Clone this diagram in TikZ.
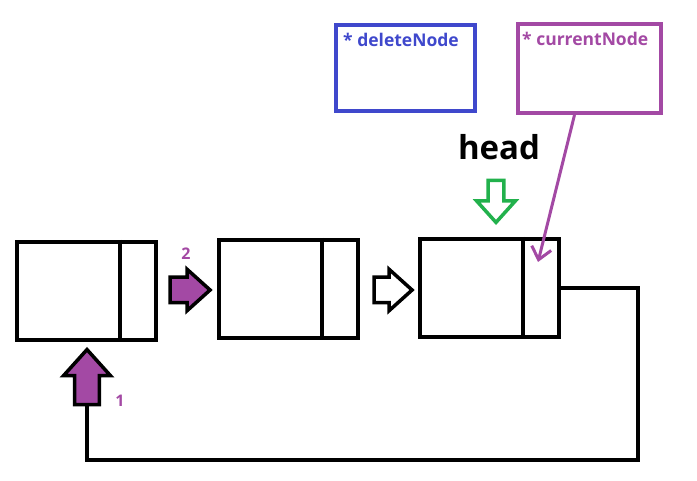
\documentclass[tikz,border=0pt]{standalone}
\usepackage{fontspec}
\setmainfont{Open Sans}
\usepackage{tikz}
\usetikzlibrary{shapes, arrows.meta, positioning}
\definecolor{ptrPurple}{HTML}{A349A4}
\definecolor{ptrBlue}{HTML}{3F48CC}
\definecolor{headGreen}{HTML}{22B14C}
\tikzset{
  listnode/.style={draw=black, line width=4pt, inner sep=0pt,
                   minimum width=139pt, minimum height=98pt},
  ptrbox/.style={draw=#1, line width=4pt, inner sep=0pt},
  ptrtext/.style={text=#1, font=\fontsize{17.5}{20}\selectfont\bfseries,
                  inner sep=0pt, anchor=north west},
  blockarrow/.style={single arrow, draw=black, line width=3.5pt,
                     inner sep=0pt, single arrow tip angle=84},
  numlbl/.style={text=ptrPurple, font=\fontsize{16}{18}\selectfont\bfseries},
  linkline/.style={draw=black, line width=4pt},
}

\begin{document}
\begin{tikzpicture}[x=1pt, y=-1pt]
    \useasboundingbox (0,0) rectangle (697,481);
    % list nodes
    \node[listnode] (box1) at (86.5,291) {};
    \node[listnode, right=59pt of box1, yshift=2pt] (box2) {};
    \node[listnode, right=58pt of box2, yshift=1pt] (box3) {};
    \foreach \b in {box1,box2,box3}{
      \draw[linkline] ([xshift=-38pt]\b.north east) -- ([xshift=-38pt]\b.south east);
    }
    % pointers
    \node[ptrbox=ptrBlue, minimum width=139pt, minimum height=86pt] (delbox) at (405.5,68) {};
    \node[ptrbox=ptrPurple, minimum width=143pt, minimum height=89pt] (curbox) at (589.5,68.5) {};
    \node[ptrtext=ptrBlue] (deltext) at ([xshift=9pt,yshift=-10pt]delbox.north west) {* deleteNode};
    \node[ptrtext=ptrPurple] (curtext) at ([xshift=6pt,yshift=-10pt]curbox.north west) {* currentNode};
    \coordinate (curtip) at ([xshift=-23pt,yshift=-25pt]box3.north east);
    \draw[draw=ptrPurple, line width=3pt, -{Straight Barb[length=12pt, width=20pt]}]
      ([xshift=-15pt]curbox.south) -- (curtip);
    % head
    \node[blockarrow, draw=headGreen, fill=white, shape border rotate=270,
          minimum height=42pt, inner xsep=6.2pt, single arrow head extend=11.5pt]
          (headarr) at (496,197) {};
    \node[font=\fontsize{33}{36}\selectfont\bfseries, above=15pt of headarr,
          xshift=3pt] (headlbl) {head};
    % links
    \node[blockarrow, fill=ptrPurple, minimum height=40pt, inner ysep=11pt,
          single arrow head extend=8pt] (arr2) at (183,290) {};
    \node[blockarrow, fill=white, minimum height=38pt, inner ysep=11pt,
          single arrow head extend=8pt] (arr3) at (386,290) {};
    \node[blockarrow, fill=ptrPurple, shape border rotate=90,
          minimum height=55pt, inner xsep=10.7pt, single arrow head extend=11pt]
          (arr1) at (87,384) {};
    \node[numlbl] (lbl2) at (186,254) {2};
    \node[numlbl] (lbl1) at (120,401) {1};
    \coordinate (loopcorner) at (638,460);
    \draw[linkline] (box3.east) -| (loopcorner) -| (arr1.tail);
\end{tikzpicture}
\end{document}
